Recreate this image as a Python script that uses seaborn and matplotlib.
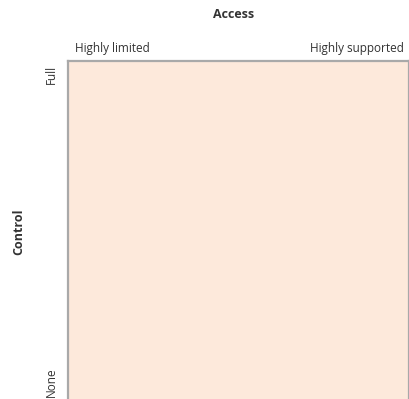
import matplotlib
matplotlib.use("Agg")
import matplotlib.pyplot as plt
import matplotlib.transforms as mtransforms
import seaborn as sns

# axis labels of the empty quadrant chart
x_title = "Access"
y_title = "Control"
x_levels = ["Highly limited", "Highly supported"]
y_levels = ["None", "Full"]

fill_color = "#fde9db"
edge_color = "#a9a9a9"
text_color = "#333333"

sns.set_style("white", {"axes.facecolor": fill_color, "axes.edgecolor": edge_color})
plt.rcParams['font.family'] = ['Open Sans', 'DejaVu Sans']

fig = plt.figure(figsize=(4.10, 3.99), dpi=100)
ax = fig.add_axes([68 / 410, -0.01, 341 / 410, 338 / 399 + 0.01])
for s in ax.spines.values():
    s.set_linewidth(1.6)
    s.set_color(edge_color)

ax.set_xlim(0, 1)
ax.set_ylim(0, 1)

ax.xaxis.tick_top()
ax.set_xticks([0, 1])
ax.set_xticklabels(x_levels, fontsize=8.5, color=text_color)
ax.set_yticks([0, 1])
ax.set_yticklabels(y_levels, fontsize=8.5, color=text_color, rotation=90)
ax.tick_params(axis="x", length=0, pad=4)
ax.tick_params(axis="y", length=0, pad=7.5)

for lab, ha, off in zip(ax.get_xticklabels(), ["left", "right"], [5 / 72, -4 / 72]):
    lab.set_ha(ha)
    lab.set_transform(lab.get_transform() + mtransforms.ScaledTranslation(off, 0, fig.dpi_scale_trans))
for lab, va, off in zip(ax.get_yticklabels(), ["bottom", "top"], [4 / 72, -3 / 72]):
    lab.set_va(va)
    lab.set_transform(lab.get_transform() + mtransforms.ScaledTranslation(0, off, fig.dpi_scale_trans))

ax.set_title(x_title, fontsize=9, fontweight="bold", color=text_color, pad=31, x=0.485)
ax.set_ylabel(y_title, fontsize=9, fontweight="bold", color=text_color, labelpad=14)

fig.savefig("out.png", dpi=100)
